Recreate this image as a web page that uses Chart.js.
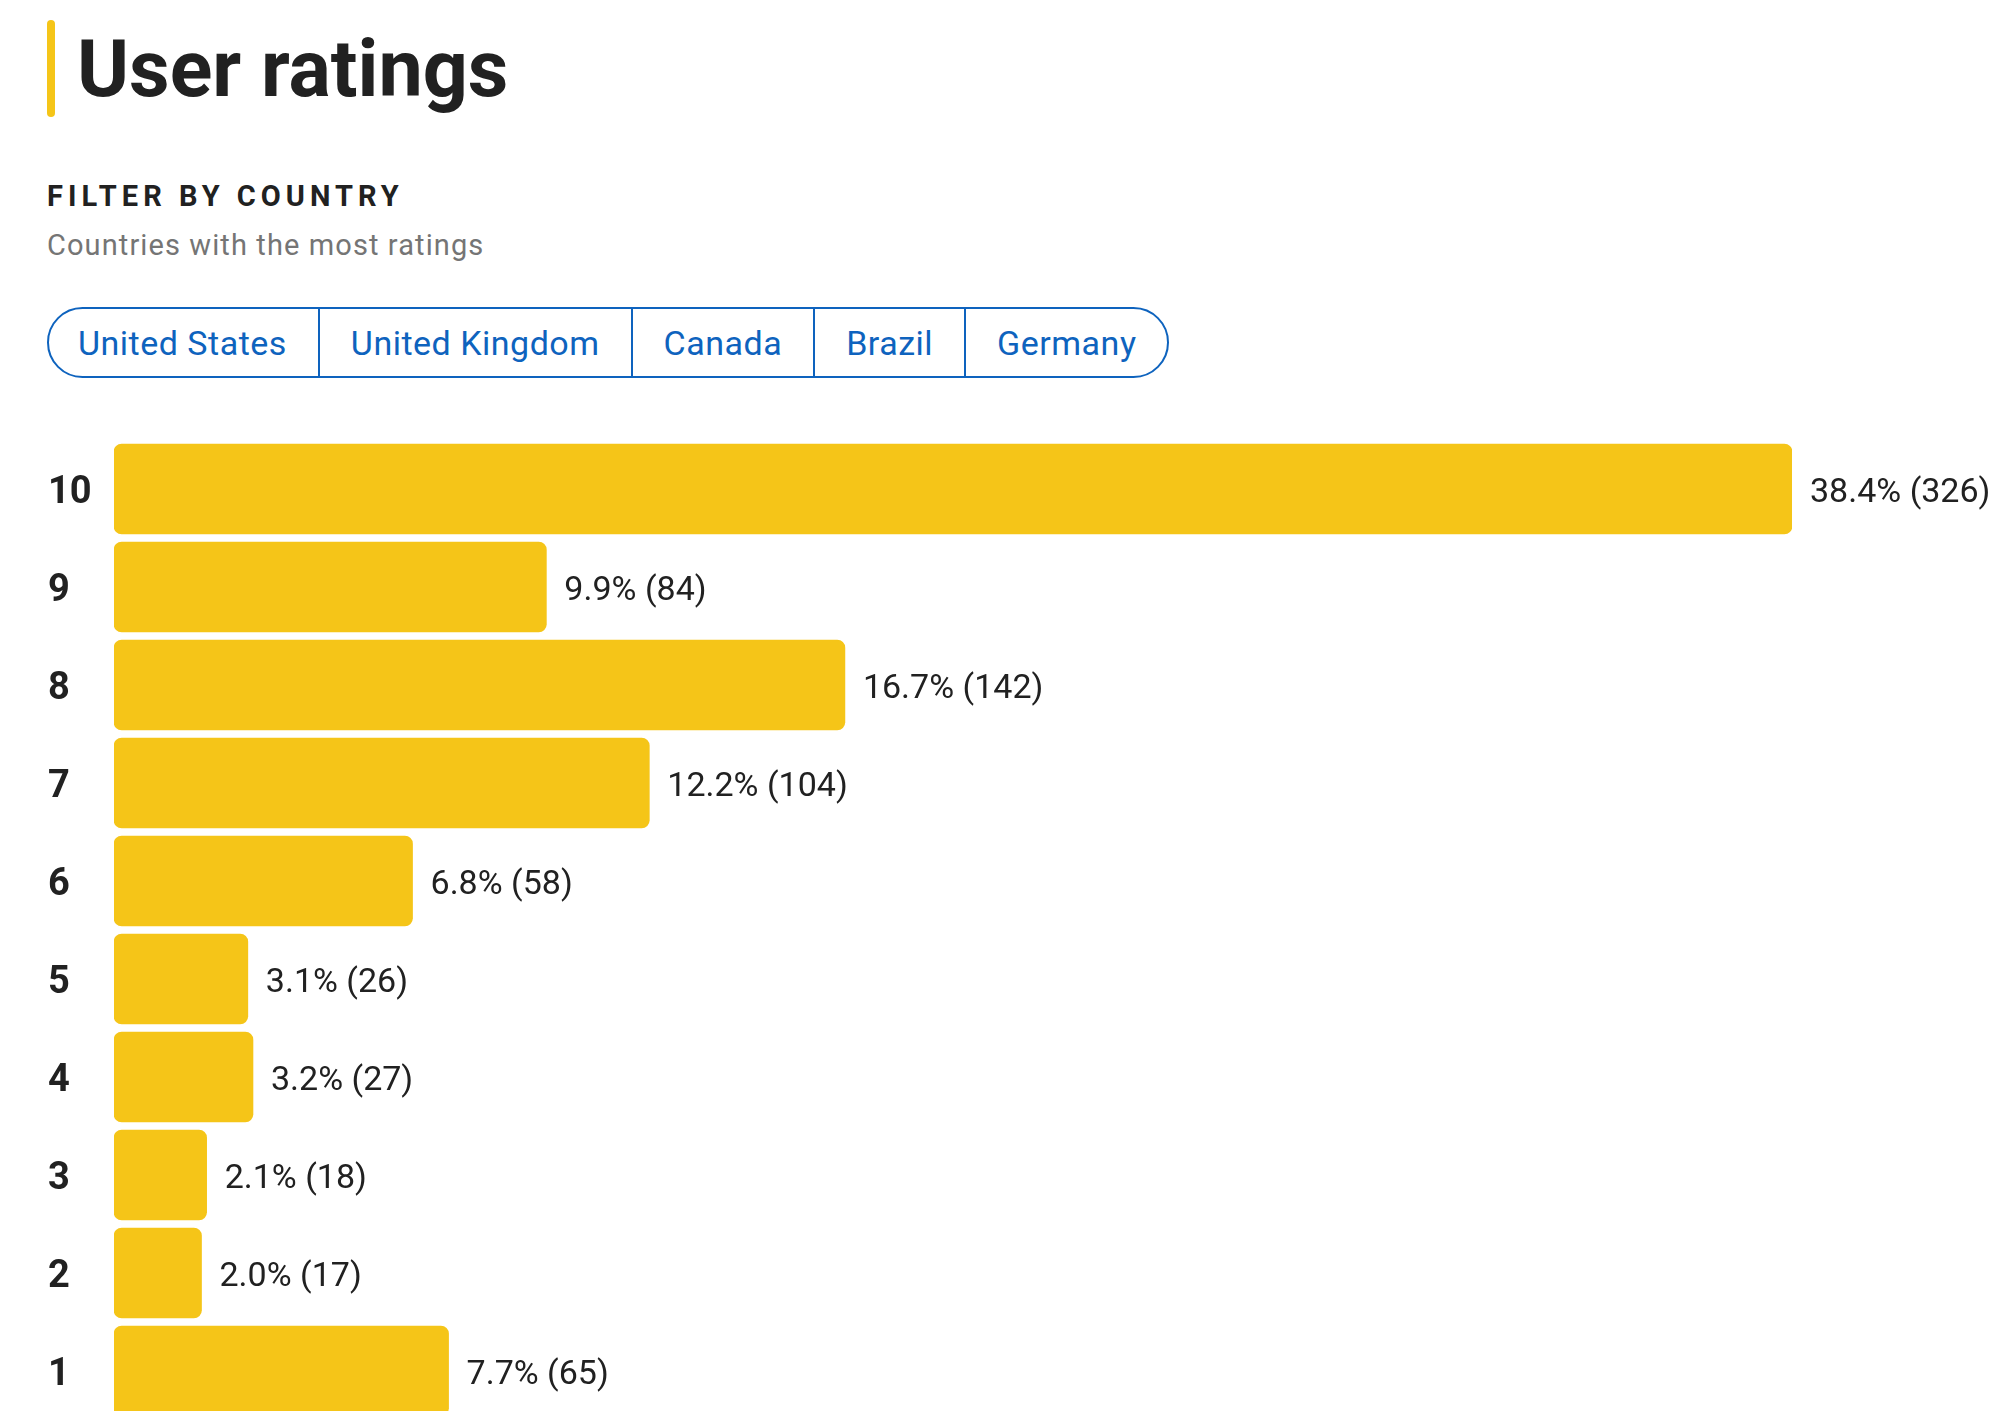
<!DOCTYPE html>
<html>
<head>
<meta charset="utf-8">
<title>User ratings</title>
<script src="https://cdn.jsdelivr.net/npm/chart.js@4/dist/chart.umd.min.js"></script>
<style>
  html, body { margin: 0; padding: 0; background: #fff; overflow: hidden; width: 1997px; height: 1411px; }
  body { position: relative; font-family: Roboto, sans-serif; color: #212121; }
  .accent { position: absolute; left: 47px; top: 20px; width: 8px; height: 97px; border-radius: 4px; background: #F5C518; }
  h1 { position: absolute; left: 77px; top: 30px; margin: 0; font-size: 79px; line-height: 1; font-weight: 700; }
  .filter { position: absolute; left: 47px; top: 182px; font-size: 29px; line-height: 1; font-weight: 700; letter-spacing: 5px; }
  .sub { position: absolute; left: 47px; top: 231px; font-size: 29px; line-height: 1; color: #757575; letter-spacing: 1.1px; }
  .chips { position: absolute; left: 47px; top: 307px; height: 71px; box-sizing: border-box; display: flex;
           border: 2px solid #0E63BE; border-radius: 36px; overflow: hidden; }
  .chips span { display: flex; align-items: center; padding: 0 31px; font-size: 34px; letter-spacing: 0.5px; color: #0E63BE; border-right: 2px solid #0E63BE; }
  .chips span:first-child { padding-left: 29px; }
  .chips span:last-child { border-right: none; }
  #wrap { position: absolute; left: 0; top: 418px; width: 1997px; height: 1024px; }
</style>
</head>
<body>
<div class="accent"></div>
<h1>User ratings</h1>
<div class="filter">FILTER BY COUNTRY</div>
<div class="sub">Countries with the most ratings</div>
<div class="chips" id="chips"></div>
<div id="wrap"><canvas id="ratingsChart"></canvas></div>

<script>
// data
const countries = ['United States', 'United Kingdom', 'Canada', 'Brazil', 'Germany'];
const ratings = ['10', '9', '8', '7', '6', '5', '4', '3', '2', '1'];
const counts = [326, 84, 142, 104, 58, 26, 27, 18, 17, 65];
const percents = [38.4, 9.9, 16.7, 12.2, 6.8, 3.1, 3.2, 2.1, 2.0, 7.7];

// country filter chips
const chips = document.getElementById('chips');
countries.forEach(c => {
  const s = document.createElement('span');
  s.textContent = c;
  chips.appendChild(s);
});

Chart.defaults.font.family = 'Roboto, sans-serif';

// draws "38.4% (326)" right after each bar
const valueLabels = {
  id: 'valueLabels',
  afterDatasetsDraw(chart) {
    const ctx = chart.ctx;
    const meta = chart.getDatasetMeta(0);
    ctx.save();
    ctx.font = '34px Roboto, sans-serif';
    ctx.fillStyle = '#212121';
    ctx.textAlign = 'left';
    ctx.textBaseline = 'middle';
    meta.data.forEach((bar, i) => {
      ctx.fillText(percents[i].toFixed(1) + '% (' + counts[i] + ')', bar.x + 18, bar.y + 4);
    });
    ctx.restore();
  }
};

const ctx = document.getElementById('ratingsChart');
new Chart(ctx, {
  type: 'bar',
  data: {
    labels: ratings,
    datasets: [{
      data: counts,
      backgroundColor: '#F5C518',
      borderRadius: 8,
      borderSkipped: false,
      barThickness: 90
    }]
  },
  options: {
    indexAxis: 'y',
    responsive: true,
    maintainAspectRatio: false,
    animation: false,
    layout: { padding: { left: 48, right: 205, top: 0, bottom: 0 } },
    plugins: {
      legend: { display: false },
      tooltip: { enabled: false }
    },
    scales: {
      x: {
        display: false,
        min: 0,
        max: Math.max(...counts)
      },
      y: {
        grid: { display: false },
        border: { display: false },
        ticks: {
          crossAlign: 'far',
          labelOffset: 4,
          color: '#212121',
          font: { size: 38, weight: 'bold', lineHeight: 1 }
        },
        afterFit(axis) { axis.width = 66; }
      }
    }
  },
  plugins: [valueLabels]
});
</script>
</body>
</html>
